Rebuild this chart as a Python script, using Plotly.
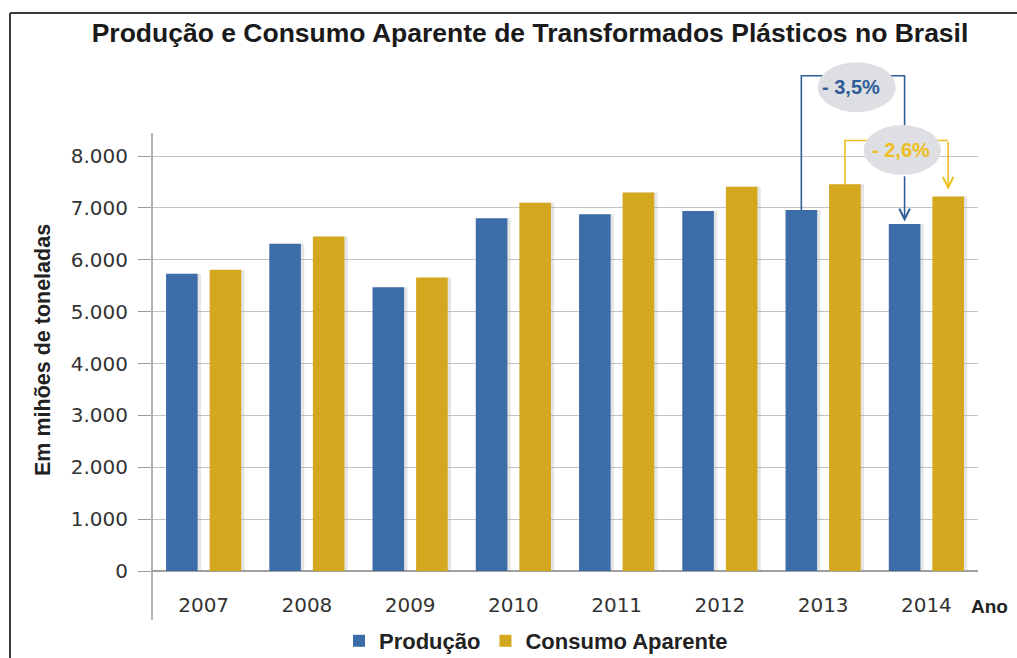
import plotly.graph_objects as go

# ---- data ----
anos = ["2007", "2008", "2009", "2010", "2011", "2012", "2013", "2014"]
producao = [5730, 6310, 5470, 6800, 6880, 6940, 6960, 6690]
consumo = [5810, 6450, 5660, 7100, 7300, 7410, 7460, 7220]
y_tick_vals = [0, 1000, 2000, 3000, 4000, 5000, 6000, 7000, 8000]
y_tick_text = ["0", "1.000", "2.000", "3.000", "4.000", "5.000", "6.000", "7.000", "8.000"]
serie_nomes = ["Produção", "Consumo Aparente"]
var_prod_label = "- 3,5%"
var_cons_label = "- 2,6%"

# ---- style ----
BLUE = "#3D6DA8"
GOLD = "#D4A81E"
BLUE_LINE = "#2F5D98"
GOLD_LINE = "#EDBE22"
GRID = "#C3C3C3"
TXT = "#333333"

W, H = 1017, 658
ML, MR, MT, MB = 152, 39, 55, 87
plot_h = H - MT - MB
plot_w = W - ML - MR
YMAX = 9950

bar_w = 0.306
half = 0.211  # distance of each bar center from category center

def px_to_paper_y(py):
    return (H - MB - py) / plot_h

def px_to_paper_x(px):
    return (px - ML) / plot_w

fig = go.Figure()

# shadows
for vals, off in ((producao, -half), (consumo, half)):
    fig.add_trace(go.Bar(
        x=anos, y=vals, width=bar_w, offset=off - bar_w / 2 + 0.032,
        marker=dict(color="rgba(150,150,150,0.25)", line=dict(width=0)),
        showlegend=False, hoverinfo="skip"))

fig.add_trace(go.Bar(
    x=anos, y=producao, name=f"<b>{serie_nomes[0]}</b>", width=bar_w, offset=-half - bar_w / 2,
    marker=dict(color=BLUE, line=dict(width=0))))
fig.add_trace(go.Bar(
    x=anos, y=consumo, name=f"<b>{serie_nomes[1]}</b>", width=bar_w, offset=half - bar_w / 2,
    marker=dict(color=GOLD, line=dict(width=0))))

i13 = anos.index("2013")
i14 = anos.index("2014")
blue_top = 9550
gold_top = 8300

shapes = []
# blue bracket
shapes.append(dict(type="path", xref="x", yref="y",
                   path=f"M {i13-half},{producao[i13]} L {i13-half},{blue_top} L {i14-half},{blue_top} L {i14-half},7700",
                   line=dict(color=BLUE_LINE, width=1.6)))
# gold bracket
shapes.append(dict(type="path", xref="x", yref="y",
                   path=f"M {i13+half},{consumo[i13]} L {i13+half},{gold_top} L {i14+half},{gold_top}",
                   line=dict(color=GOLD_LINE, width=1.6)))
# ellipses
shapes.append(dict(type="circle", xref="x", yref="y", x0=5.947, x1=6.704, y0=8850, y1=9810,
                   fillcolor="#DEDFE2", line=dict(width=0)))
shapes.append(dict(type="circle", xref="x", yref="y", x0=6.393, x1=7.141, y0=7640, y1=8600,
                   fillcolor="#DEDFE2", line=dict(width=0)))
# y axis line
shapes.append(dict(type="line", xref="paper", yref="paper", x0=0, x1=0,
                   y0=px_to_paper_y(620), y1=px_to_paper_y(133),
                   line=dict(color="#9A9A9A", width=1.5)))
# frame (top and left)
shapes.append(dict(type="line", xref="paper", yref="paper",
                   x0=px_to_paper_x(10), x1=px_to_paper_x(1030),
                   y0=px_to_paper_y(13), y1=px_to_paper_y(13),
                   line=dict(color="#3A3A3A", width=2)))
shapes.append(dict(type="line", xref="paper", yref="paper",
                   x0=px_to_paper_x(10), x1=px_to_paper_x(10),
                   y0=px_to_paper_y(13), y1=px_to_paper_y(670),
                   line=dict(color="#3A3A3A", width=2)))

annotations = [
    dict(x=i14 - half, y=producao[i14] + 50, ax=i14 - half, ay=7640, xref="x", yref="y",
         axref="x", ayref="y", text="", showarrow=True, arrowhead=5, arrowsize=1.3,
         arrowwidth=1.6, arrowcolor=BLUE_LINE),
    dict(x=i14 + half, y=consumo[i14] + 130, ax=i14 + half, ay=gold_top, xref="x", yref="y",
         axref="x", ayref="y", text="", showarrow=True, arrowhead=5, arrowsize=1.3,
         arrowwidth=1.6, arrowcolor=GOLD_LINE),
    dict(x=6.27, y=9330, xref="x", yref="y", text=f"<b>{var_prod_label}</b>", showarrow=False,
         font=dict(family="Liberation Sans, Arial", size=20, color=BLUE_LINE)),
    dict(x=6.75, y=8110, xref="x", yref="y", text=f"<b>{var_cons_label}</b>", showarrow=False,
         font=dict(family="Liberation Sans, Arial", size=20, color=GOLD_LINE)),
    dict(x=px_to_paper_x(43), y=px_to_paper_y(350), xref="paper", yref="paper",
         xanchor="center", yanchor="middle",
         text="<b>Em mihões de toneladas</b>", textangle=-90, showarrow=False,
         font=dict(family="Liberation Sans, Arial", size=21.5, color="#222222")),
    dict(x=px_to_paper_x(990), y=px_to_paper_y(606), xref="paper", yref="paper",
         xanchor="center", yanchor="middle",
         text="<b>Ano</b>", showarrow=False,
         font=dict(family="Liberation Sans, Arial", size=19, color="#222222")),
]

fig.update_layout(
    width=W, height=H,
    margin=dict(l=ML, r=MR, t=MT, b=MB, autoexpand=False),
    paper_bgcolor="white", plot_bgcolor="white",
    barmode="overlay",
    title=dict(text="<b>Produção e Consumo Aparente de Transformados Plásticos no Brasil</b>",
               x=530 / W, xanchor="center",
               y=1 - 33 / H, yanchor="middle",
               font=dict(family="Liberation Sans, Arial", size=26.5, color="#1A1A1A")),
    xaxis=dict(type="category", range=[-0.5, 7.5], showline=False, showgrid=False,
               ticks="", ticklabelstandoff=20,
               tickfont=dict(family="DejaVu Sans", size=20, color=TXT)),
    yaxis=dict(range=[0, YMAX], tickvals=y_tick_vals, ticktext=y_tick_text,
               showgrid=True, gridcolor=GRID, gridwidth=1,
               zeroline=True, zerolinecolor="#A0A0A0", zerolinewidth=1.5,
               ticks="outside", ticklen=13, tickcolor="#9A9A9A", tickwidth=1.2,
               ticklabelstandoff=6, showline=False,
               tickfont=dict(family="DejaVu Sans", size=20, color=TXT)),
    legend=dict(orientation="h", x=px_to_paper_x(536), xanchor="center",
                y=px_to_paper_y(641), yanchor="middle",
                font=dict(family="Liberation Sans, Arial", size=22, color="#222222"),
                traceorder="normal", itemwidth=30),
    shapes=shapes,
    annotations=annotations,
    showlegend=True,
)

fig.write_html("out.html", config={"displayModeBar": False},
               post_script="document.body.style.margin='0';document.body.style.overflow='hidden';")
